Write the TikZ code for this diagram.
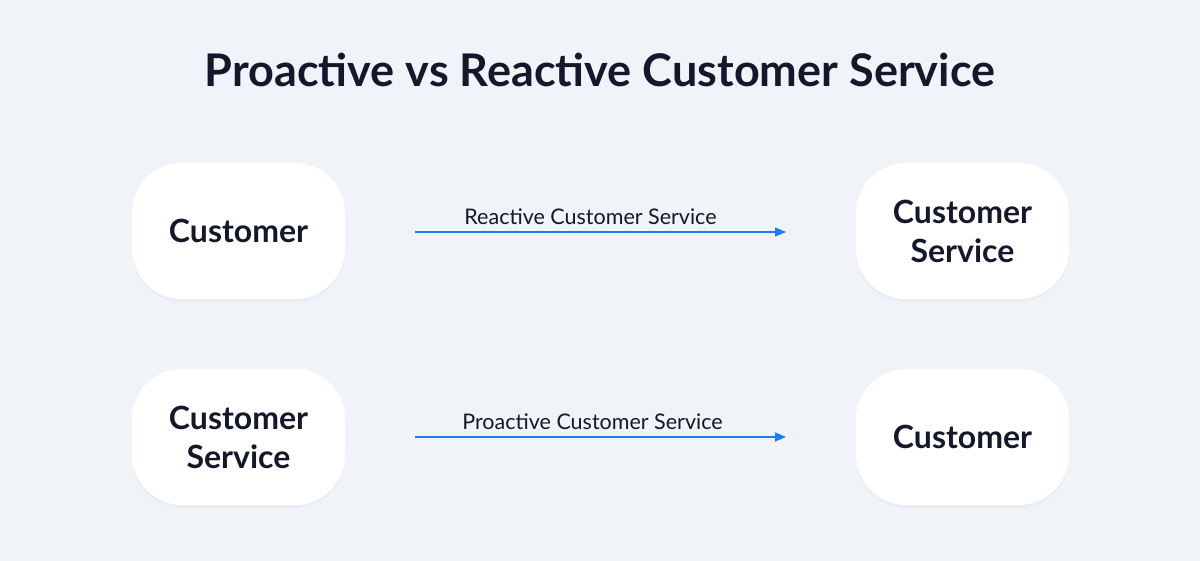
\documentclass[tikz,border=0pt]{standalone}
\usepackage{fontspec}
\setmainfont{Lato}
\usetikzlibrary{positioning,arrows.meta,shadows}
\definecolor{bgcol}{HTML}{F0F3F7}
\definecolor{txtcol}{HTML}{14182A}
\definecolor{arrcol}{HTML}{1A7CFA}
\tikzset{
  card/.style={fill=white, rounded corners=50pt, minimum width=213pt, minimum height=136pt,
    align=center, text=txtcol, font=\fontsize{32}{39}\selectfont\bfseries,
    drop shadow={shadow xshift=0pt, shadow yshift=-3pt, fill=black, opacity=0.025}},
  flow/.style={arrcol, line width=1.2pt, -{Triangle[length=11pt,width=9pt]}},
  flowlabel/.style={text=txtcol, font=\fontsize{21.5}{24}\selectfont}
}
\begin{document}
\begin{tikzpicture}[x=1pt,y=-1pt]
    \fill[bgcol] (0,0) rectangle (1200,561);
    \useasboundingbox (0,0) rectangle (1200,561);

    \node[text=txtcol, font=\fontsize{45}{52}\selectfont\bfseries] (title) at (600,70) {Proactive vs Reactive Customer Service};

    % reactive row
    \node[card] (cust1) at (238.5,231) {Customer};
    \node[card] (serv1) at (962.5,231) {Customer\\Service};
    \coordinate (a1) at (415,232);
    \coordinate (b1) at (786,232);
    \draw[flow] (a1) -- (b1) node[flowlabel, midway, above=3pt, xshift=-10pt] (lab1) {Reactive Customer Service};

    % proactive row
    \node[card] (serv2) at (238.5,437) {Customer\\Service};
    \node[card] (cust2) at (962.5,437) {Customer};
    \coordinate (a2) at (415,437);
    \coordinate (b2) at (786,437);
    \draw[flow] (a2) -- (b2) node[flowlabel, midway, above=3pt, xshift=-8pt] (lab2) {Proactive Customer Service};
\end{tikzpicture}
\end{document}
